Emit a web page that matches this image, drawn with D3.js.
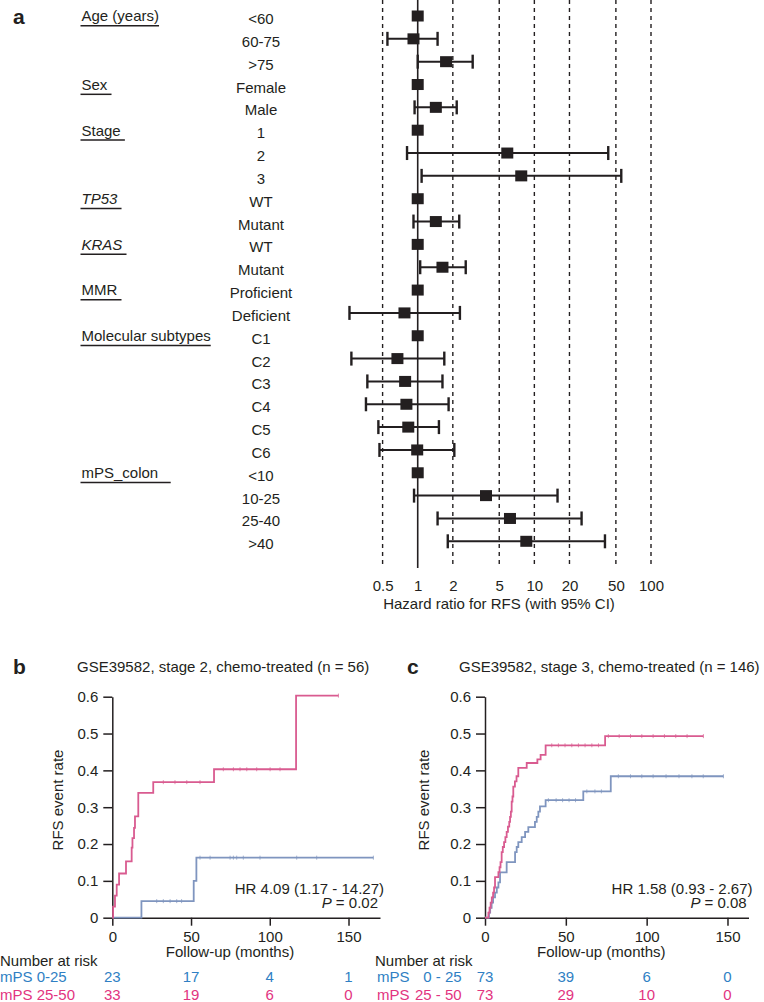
<!DOCTYPE html>
<html>
<head>
<meta charset="utf-8">
<script src="https://cdn.jsdelivr.net/npm/d3@7"></script>
<style>
  body { margin: 0; background: #fff; }
  text { font-family: "Liberation Sans", Arial, Helvetica, sans-serif; fill: #231f20; }
</style>
</head>
<body>
<script>
// ---------------- Panel a: forest plot data ----------------
const forestCategories = ["<60", "60-75", ">75", "Female", "Male", "1", "2", "3", "WT", "Mutant", "WT", "Mutant",
  "Proficient", "Deficient", "C1", "C2", "C3", "C4", "C5", "C6", "<10", "10-25", "25-40", ">40"];
const forestHR    = [1, 0.92, 1.75, 1, 1.43, 1, 5.86, 7.72, 1, 1.43, 1, 1.63, 1, 0.77, 1, 0.67, 0.78, 0.80, 0.83, 0.99, 1, 3.85, 6.18, 8.53];
const forestLower = [null, 0.55, 1.0, null, 0.94, null, 0.81, 1.08, null, 0.92, null, 1.05, null, 0.26, null, 0.27, 0.37, 0.36, 0.46, 0.47, null, 0.93, 1.48, 1.81];
const forestUpper = [null, 1.48, 2.96, null, 2.16, null, 43.0, 55.6, null, 2.27, null, 2.58, null, 2.30, null, 1.69, 1.63, 1.84, 1.52, 2.06, null, 15.8, 25.4, 40.3];
const groupLabels = ["Age (years)", "Sex ", "Stage ", "TP53 ", "KRAS ", "MMR ", "Molecular subtypes", "mPS_colon   "];
const groupRows   = [0, 3, 5, 8, 10, 12, 14, 20];
const groupItalic = [false, false, false, true, true, false, false, false];
const hrTicks = [0.5, 1, 2, 5, 10, 20, 50, 100];
const forestAxisTitle = "Hazard ratio for RFS (with 95% CI)";

// ---------------- Panel b: KM stage 2 ----------------
const titleB = "GSE39582, stage 2, chemo-treated (n = 56)";
const highB_t = [0, 0.5, 1.7, 2.8, 4.3, 8.7, 12.3, 12.8, 13.8, 14.4, 16.5, 26.0, 64.6, 116.7, 143.6];
const highB_v = [0, 0.03, 0.06, 0.09, 0.12, 0.153, 0.19, 0.216, 0.244, 0.275, 0.339, 0.368, 0.403, 0.603, 0.603];
const lowB_t  = [0, 18.5, 51.7, 53.4, 165.8];
const lowB_v  = [0, 0.045, 0.10, 0.163, 0.163];
const censHighB = [32.4, 39.8, 47.3, 55.7, 70.5, 76.9, 81.1, 85.4, 91.7, 100.2, 106.5, 143.6];
const censLowB  = [28.2, 32.4, 36.7, 40.9, 44.0, 55.7, 62.1, 74.8, 76.9, 79.0, 83.2, 93.8, 117.1, 129.8, 165.8];
const hrTextB = "HR 4.09 (1.17 - 14.27)";
const pValB = "0.02";
const riskMonths = [0, 50, 100, 150];
const riskB_low  = [23, 17, 4, 1];
const riskB_high = [33, 19, 6, 0];
const groupNamesB = ["mPS 0-25", "mPS 25-50"];

// ---------------- Panel c: KM stage 3 ----------------
const titleC = "GSE39582, stage 3, chemo-treated (n = 146)";
const highC_t = [0, 2.1, 2.8, 3.5, 4.2, 5.0, 5.6, 6.2, 8.3, 9.0, 9.6, 10.3, 11.0, 11.8, 12.6, 13.4, 14.2, 15.0, 15.5, 16.0, 16.5, 17.0, 17.5, 18.5, 19.5, 20.6, 25.8, 32.4, 34.4, 37.5, 74.3, 135.1];
const highC_v = [0, 0.014, 0.027, 0.041, 0.055, 0.068, 0.082, 0.11, 0.124, 0.137, 0.151, 0.178, 0.192, 0.205, 0.219, 0.233, 0.247, 0.26, 0.274, 0.288, 0.315, 0.329, 0.356, 0.37, 0.384, 0.407, 0.42, 0.43, 0.442, 0.468, 0.493, 0.493];
const lowC_t  = [0, 2.5, 3.2, 4.1, 5.0, 6.2, 7.3, 8.3, 9.3, 13.4, 18.6, 19.6, 20.6, 22.7, 24.8, 26.8, 30.9, 32.0, 33.0, 34.0, 37.5, 60.8, 77.8, 147.5];
const lowC_v  = [0, 0.014, 0.027, 0.041, 0.055, 0.068, 0.082, 0.096, 0.123, 0.151, 0.178, 0.192, 0.205, 0.219, 0.233, 0.246, 0.26, 0.274, 0.288, 0.302, 0.319, 0.343, 0.384, 0.384];
const censHighC = [41.3, 45.4, 49.5, 53.7, 57.8, 61.9, 66.1, 70.2, 76.3, 83, 90, 97, 104, 111, 118, 125, 135.1];
const censLowC  = [39.2, 44, 48, 52, 56, 63, 68, 72, 82.5, 90, 97, 104, 112, 120, 128, 135, 147.5];
const hrTextC = "HR 1.58 (0.93 - 2.67)";
const pValC = "0.08";
const riskC_low  = [73, 39, 6, 0];
const riskC_high = [73, 29, 10, 0];
const groupNamesC = [["mPS", "0 - 25"], ["mPS", "25 - 50"]];

const yTicksKM = [0, 0.1, 0.2, 0.3, 0.4, 0.5, 0.6];

// ---------------- styling ----------------
const INK = "#231f20";
const PINK_LINE = "#d95b90";
const BLUE_LINE = "#7f95bf";
const PINK_TXT = "#e2347f";
const BLUE_TXT = "#2f7fc4";
const FS = 15;

const svg = d3.select("body").append("svg").attr("width", 764).attr("height", 1002);

// ================= Panel a =================
const xF = d3.scaleLog().domain([0.5, 100]).range([382.6, 651]);
const yF = d3.scalePoint().domain(d3.range(forestCategories.length)).range([16, 541.3]);
const gA = svg.append("g");

gA.append("text").attr("x", 13).attr("y", 23.5).attr("font-size", 21).attr("font-weight", "bold").text("a");

// reference grid lines
gA.selectAll("line.dash").data(hrTicks.filter(d => d !== 1)).enter().append("line")
  .attr("x1", d => xF(d)).attr("x2", d => xF(d)).attr("y1", 0).attr("y2", 568)
  .attr("stroke", INK).attr("stroke-width", 1.4).attr("stroke-dasharray", "4,4");
gA.append("line").attr("x1", xF(1)).attr("x2", xF(1)).attr("y1", 0).attr("y2", 568)
  .attr("stroke", INK).attr("stroke-width", 1.6);

// axis tick labels
const axF = d3.axisBottom(xF).tickValues(hrTicks).tickFormat(d => String(d)).tickSize(0).tickPadding(5);
const gAx = gA.append("g").attr("transform", "translate(0,575)").call(axF);
gAx.select(".domain").remove();
gAx.selectAll("text").attr("font-size", FS).attr("font-family", null).attr("fill", INK);
gA.append("text").attr("x", 499).attr("y", 609).attr("text-anchor", "middle").attr("font-size", FS).text(forestAxisTitle);

// category labels
gA.selectAll("text.cat").data(forestCategories).enter().append("text")
  .attr("x", 261).attr("y", (d, i) => yF(i) + 8).attr("text-anchor", "middle").attr("font-size", FS).text(d => d);

// group labels with underline
groupLabels.forEach((lab, k) => {
  const y = yF(groupRows[k]);
  const t = gA.append("text").attr("x", 81.5).attr("y", y + 5.4).attr("font-size", FS)
    .style("white-space", "pre").attr("xml:space", "preserve")
    .attr("font-style", groupItalic[k] ? "italic" : null).text(lab);
  const w = t.node().getComputedTextLength();
  gA.append("line").attr("x1", 80.5).attr("x2", 81.5 + w).attr("y1", y + 9.8).attr("y2", y + 9.8)
    .attr("stroke", INK).attr("stroke-width", 1.5);
});

// CIs
forestCategories.forEach((c, i) => {
  if (forestLower[i] == null) return;
  const y = yF(i);
  gA.append("line").attr("x1", xF(forestLower[i])).attr("x2", xF(forestUpper[i])).attr("y1", y).attr("y2", y)
    .attr("stroke", INK).attr("stroke-width", 2);
  [forestLower[i], forestUpper[i]].forEach(v => {
    gA.append("line").attr("x1", xF(v)).attr("x2", xF(v)).attr("y1", y - 7).attr("y2", y + 7)
      .attr("stroke", INK).attr("stroke-width", 2.4);
  });
});
// squares
gA.selectAll("rect.hr").data(forestHR).enter().append("rect")
  .attr("x", d => xF(d) - 6).attr("y", (d, i) => yF(i) - 5.5).attr("width", 12).attr("height", 11).attr("fill", INK);

// ================= KM panels =================
function stepValue(ts, vs, t) {
  let v = 0;
  for (let i = 0; i < ts.length; i++) { if (ts[i] <= t) v = vs[i]; }
  return v;
}

function drawKM(cfg) {
  const g = svg.append("g");
  const x = d3.scaleLinear().domain([0, cfg.xMax]).range([cfg.x0, cfg.x1]);
  const y = d3.scaleLinear().domain([0, 0.6]).range([917.7, 696.7]);

  g.append("text").attr("x", cfg.letterX).attr("y", 673.5).attr("font-size", 21).attr("font-weight", "bold").text(cfg.letter);
  g.append("text").attr("x", cfg.titleX).attr("y", 672).attr("font-size", FS).text(cfg.title);

  const ax = g.append("g").attr("transform", "translate(0,917.7)")
    .call(d3.axisBottom(x).tickValues(riskMonths).tickSize(8).tickSizeOuter(0).tickPadding(5.5));
  const ay = g.append("g").attr("transform", `translate(${cfg.x0},0)`)
    .call(d3.axisLeft(y).tickValues(yTicksKM).tickFormat(d => d === 0 ? "0" : d3.format(".1f")(d)).tickSize(9).tickSizeOuter(0).tickPadding(5));
  [ax, ay].forEach(a => {
    a.selectAll("path,line").attr("stroke", INK).attr("stroke-width", 1.5);
    a.selectAll("text").attr("font-size", FS).attr("font-family", null).attr("fill", INK);
  });

  g.append("text").attr("transform", `translate(${cfg.ylabX},800) rotate(-90)`).attr("text-anchor", "middle")
    .attr("dy", "0.36em").attr("font-size", FS).text("RFS event rate");
  g.append("text").attr("x", cfg.xlabX).attr("y", 957).attr("text-anchor", "middle").attr("font-size", FS).text("Follow-up (months)");

  const line = d3.line().curve(d3.curveStepAfter).x(d => x(d[0])).y(d => y(d[1]));
  cfg.curves.forEach(cv => {
    const pts = cv.t.map((t, i) => [t, cv.v[i]]);
    g.append("path").datum(pts).attr("d", line).attr("fill", "none").attr("stroke", cv.color).attr("stroke-width", 1.8);
    cv.cens.forEach(t => {
      const vy = y(stepValue(cv.t, cv.v, t));
      g.append("line").attr("x1", x(t)).attr("x2", x(t)).attr("y1", vy - 2).attr("y2", vy + 2)
        .attr("stroke", cv.color).attr("stroke-width", 1).attr("opacity", 0.7);
    });
  });

  g.append("text").attr("x", cfg.hrX).attr("y", 893.5).attr("text-anchor", "end").attr("font-size", FS).text(cfg.hrText);
  const p = g.append("text").attr("x", cfg.pX).attr("y", 907.8).attr("text-anchor", "end").attr("font-size", FS);
  p.append("tspan").attr("font-style", "italic").text("P");
  p.append("tspan").text(" = " + cfg.pVal);

  // risk table
  g.append("text").attr("x", cfg.riskX).attr("y", 965.5).attr("font-size", FS).text("Number at risk");
  const rows = [{vals: cfg.riskLow, col: BLUE_TXT, y: 982, name: cfg.names[0]},
                {vals: cfg.riskHigh, col: PINK_TXT, y: 1000, name: cfg.names[1]}];
  rows.forEach(r => {
    if (Array.isArray(r.name)) {
      g.append("text").attr("x", cfg.riskX + 2).attr("y", r.y).attr("font-size", FS).style("fill", r.col).text(r.name[0]);
      g.append("text").attr("x", cfg.nameEndX).attr("y", r.y).attr("text-anchor", "end").attr("font-size", FS).style("fill", r.col).text(r.name[1]);
    } else {
      g.append("text").attr("x", cfg.riskX).attr("y", r.y).attr("font-size", FS).style("fill", r.col).text(r.name);
    }
    g.selectAll(null).data(r.vals).enter().append("text")
      .attr("x", (d, i) => x(riskMonths[i])).attr("y", r.y).attr("text-anchor", "middle")
      .attr("font-size", FS).style("fill", r.col).text(d => d);
  });
}

drawKM({
  letter: "b", letterX: 13, title: titleB, titleX: 77,
  xMax: 170, x0: 112.3, x1: 380, ylabX: 58, xlabX: 230,
  curves: [
    {t: lowB_t, v: lowB_v, cens: censLowB, color: BLUE_LINE},
    {t: highB_t, v: highB_v, cens: censHighB, color: PINK_LINE}
  ],
  hrText: hrTextB, hrX: 384, pVal: pValB, pX: 378,
  riskX: 0, riskLow: riskB_low, riskHigh: riskB_high, names: groupNamesB
});

drawKM({
  letter: "c", letterX: 407, title: titleC, titleX: 459,
  xMax: 163, x0: 485, x1: 748.5, ylabX: 423.3, xlabX: 601.3,
  curves: [
    {t: lowC_t, v: lowC_v, cens: censLowC, color: BLUE_LINE},
    {t: highC_t, v: highC_v, cens: censHighC, color: PINK_LINE}
  ],
  hrText: hrTextC, hrX: 752.5, pVal: pValC, pX: 746.7,
  riskX: 375, nameEndX: 461.7, riskLow: riskC_low, riskHigh: riskC_high, names: groupNamesC
});
</script>
</body>
</html>
